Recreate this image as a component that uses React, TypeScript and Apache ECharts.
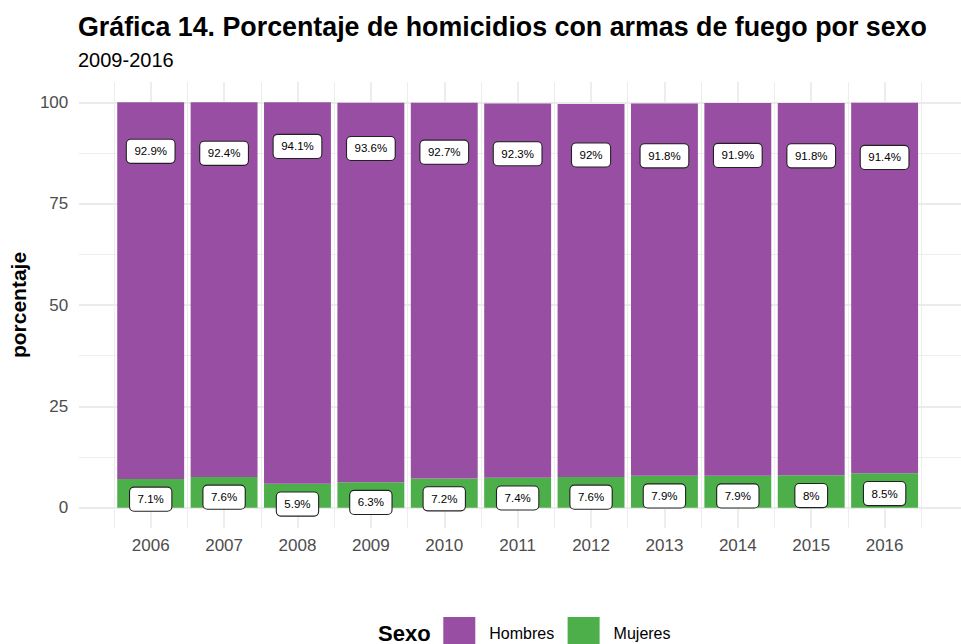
import React, { useEffect, useRef } from "react";
import * as echarts from "echarts";

const years = [2006, 2007, 2008, 2009, 2010, 2011, 2012, 2013, 2014, 2015, 2016];
const hombres = [92.9, 92.4, 94.1, 93.6, 92.7, 92.3, 92, 91.8, 91.9, 91.8, 91.4];
const mujeres = [7.1, 7.6, 5.9, 6.3, 7.2, 7.4, 7.6, 7.9, 7.9, 8, 8.5];
const yTicks = [0, 25, 50, 75, 100];
const labelOffset = 5;

const FONT = "'Liberation Sans', Arial, Helvetica, sans-serif";
const PURPLE = "#984EA3";
const GREEN = "#4DAF4A";
const GRID = "#ebebeb";

export default function App() {
  const ref = useRef<HTMLDivElement>(null);
  useEffect(() => {
    if (!ref.current) return;
    const chart = echarts.init(ref.current, undefined, { renderer: "svg" });
    const left = 77.3;
    const width = 74.36 * 12;
    const right = 961 - left - width;

    const labelStyle = {
      show: true,
      position: "inside",
      fontFamily: FONT,
      fontSize: 11.5,
      lineHeight: 14,
      color: "#000",
      backgroundColor: "#fff",
      borderColor: "#222",
      borderWidth: 1.1,
      borderRadius: 4,
      padding: [4.5, 7.5, 4.5, 7.5],
      formatter: (p: any) => `${p.data[2]}%`,
    };

    chart.setOption({
      animation: false,
      textStyle: { fontFamily: FONT },
      title: [
        {
          text: "Gráfica 14. Porcentaje de homicidios con armas de fuego por sexo",
          left: 78,
          top: 13.7,
          padding: 0,
          textStyle: { fontFamily: FONT, fontWeight: "bold", fontSize: 26.8, lineHeight: 27, color: "#000" },
        },
        {
          text: "2009-2016",
          left: 78,
          top: 49.7,
          padding: 0,
          textStyle: { fontFamily: FONT, fontWeight: "normal", fontSize: 20, lineHeight: 20, color: "#000" },
        },
        {
          text: "Sexo",
          left: 378,
          top: 622,
          padding: 0,
          textStyle: { fontFamily: FONT, fontWeight: "bold", fontSize: 22, lineHeight: 22, color: "#000" },
        },
      ],
      legend: {
        data: ["Hombres", "Mujeres"],
        left: 443.3,
        top: 617,
        padding: 0,
        itemWidth: 32,
        itemHeight: 32,
        itemGap: 13.4,
        icon: "rect",
        textStyle: { fontFamily: FONT, fontSize: 16, color: "#000", padding: [0, 0, 0, 9] },
      },
      grid: [
        { left, right, top: 82, bottom: 116 },
        { left, right, top: 102.3, bottom: 136.3 },
      ],
      xAxis: [
        {
          gridIndex: 0,
          type: "value",
          min: 2005,
          max: 2017,
          interval: 1,
          axisLine: { show: false },
          axisTick: { show: false },
          axisLabel: {
            color: "#4d4d4d",
            fontSize: 17,
            fontFamily: FONT,
            margin: 9,
            formatter: (v: number) => (years.includes(v) ? String(v) : ""),
          },
          splitLine: { show: true, showMinLine: false, showMaxLine: false, lineStyle: { color: GRID, width: 1.8 } },
          minorTick: { show: false, splitNumber: 2 },
          minorSplitLine: { show: true, lineStyle: { color: GRID, width: 0.9 } },
        },
        { gridIndex: 1, type: "value", min: 2005, max: 2017, show: false },
      ],
      yAxis: [
        { gridIndex: 0, type: "value", min: -5, max: 105, show: false },
        {
          gridIndex: 1,
          type: "value",
          min: 0,
          max: 100,
          interval: 25,
          axisLine: { show: false },
          axisTick: { show: false },
          axisLabel: {
            color: "#4d4d4d",
            fontSize: 17,
            fontFamily: FONT,
            margin: 10.6,
            customValues: yTicks,
          },
          splitLine: { show: true, lineStyle: { color: GRID, width: 1.8 } },
          minorTick: { show: false, splitNumber: 2 },
          minorSplitLine: { show: true, lineStyle: { color: GRID, width: 0.9 } },
          name: "porcentaje",
          nameLocation: "middle",
          nameGap: 42,
          nameTextStyle: { fontFamily: FONT, fontWeight: "bold", fontSize: 21, color: "#000" },
        },
      ],
      series: [
        {
          name: "Mujeres",
          type: "bar",
          xAxisIndex: 0,
          yAxisIndex: 0,
          stack: "total",
          barWidth: 66.9,
          itemStyle: { color: GREEN },
          encode: { x: 1, y: 0 },
          data: years.map((y, i) => [mujeres[i], y]),
          z: 2,
        },
        {
          name: "Hombres",
          type: "bar",
          xAxisIndex: 0,
          yAxisIndex: 0,
          stack: "total",
          barWidth: 66.9,
          itemStyle: { color: PURPLE },
          encode: { x: 1, y: 0 },
          data: years.map((y, i) => [hombres[i], y]),
          z: 2,
        },
        {
          name: "labelsH",
          type: "scatter",
          xAxisIndex: 0,
          yAxisIndex: 0,
          symbolSize: 1,
          itemStyle: { color: "rgba(0,0,0,0)", opacity: 1 },
          label: labelStyle,
          data: years.map((y, i) => [y, hombres[i] - labelOffset, hombres[i]]),
          z: 5,
          silent: true,
        },
        {
          name: "labelsM",
          type: "scatter",
          xAxisIndex: 0,
          yAxisIndex: 0,
          symbolSize: 1,
          itemStyle: { color: "rgba(0,0,0,0)", opacity: 1 },
          label: labelStyle,
          data: years.map((y, i) => [y, mujeres[i] - labelOffset, mujeres[i]]),
          z: 5,
          silent: true,
        },
      ],
    });
    return () => chart.dispose();
  }, []);
  return (
    <div
      ref={ref}
      style={{ position: "absolute", left: 0, top: 0, width: 961, height: 644, background: "#fff" }}
    />
  );
}
